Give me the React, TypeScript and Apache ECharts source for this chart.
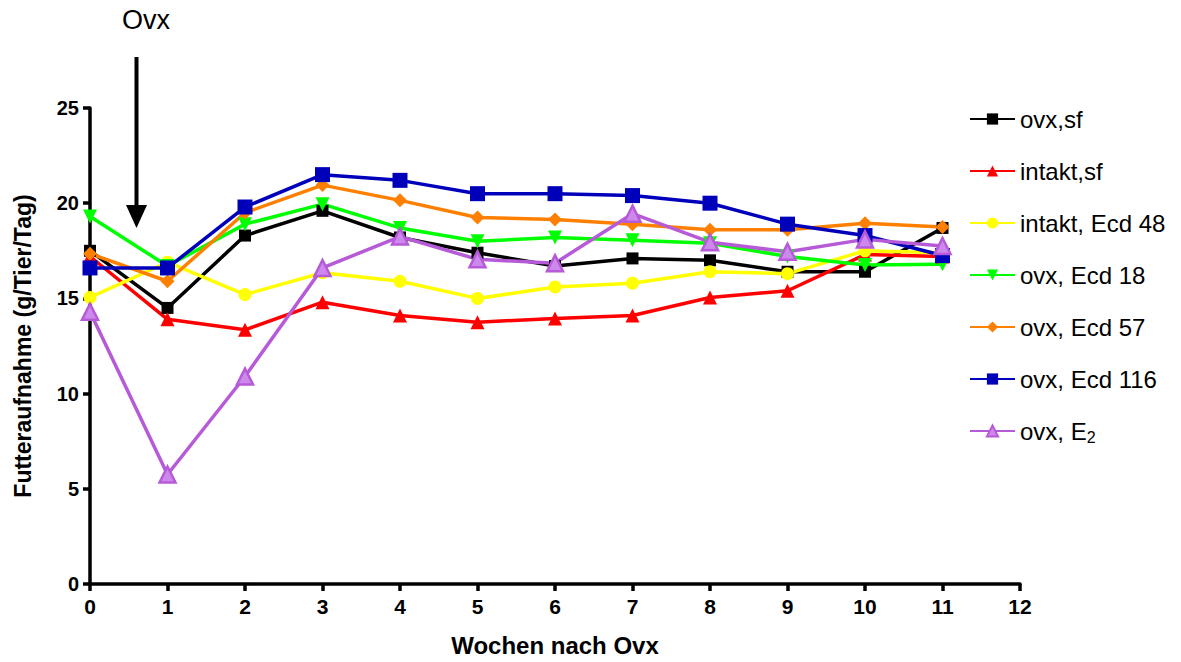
import React, { useEffect, useRef } from "react";
import * as echarts from "echarts";

const weeks = [0, 1, 2, 3, 4, 5, 6, 7, 8, 9, 10, 11];
const ovxSf = [17.5, 14.5, 18.3, 19.6, 18.2, 17.4, 16.7, 17.1, 17.0, 16.4, 16.4, 18.7];
const intaktSf = [17.2, 13.9, 13.35, 14.8, 14.1, 13.75, 13.95, 14.1, 15.05, 15.4, 17.3, 17.2];
const intaktEcd48 = [15.05, 16.9, 15.2, 16.35, 15.9, 15.0, 15.6, 15.8, 16.4, 16.3, 17.5, 17.4];
const ovxEcd18 = [19.3, 16.7, 18.9, 19.95, 18.7, 18.0, 18.2, 18.05, 17.9, 17.2, 16.75, 16.8];
const ovxEcd57 = [17.35, 15.9, 19.5, 20.95, 20.15, 19.25, 19.15, 18.9, 18.6, 18.6, 18.95, 18.75];
const ovxEcd116 = [16.6, 16.6, 19.8, 21.5, 21.2, 20.5, 20.5, 20.4, 20.0, 18.9, 18.3, 17.25];
const ovxE2 = [14.3, 5.75, 10.9, 16.6, 18.25, 17.05, 16.85, 19.45, 17.95, 17.45, 18.1, 17.75];

const seriesNames = [
  "ovx,sf",
  "intakt,sf",
  "intakt, Ecd 48",
  "ovx, Ecd 18",
  "ovx, Ecd 57",
  "ovx, Ecd 116",
  "ovx, E2",
];

const FONT = "Liberation Sans, Arial, sans-serif";

export default function App() {
  const ref = useRef<HTMLDivElement>(null);

  useEffect(() => {
    if (!ref.current) return;
    const chart = echarts.init(ref.current, undefined, { renderer: "svg" });

    const pairs = (vals: number[]) => weeks.map((w, i) => [w, vals[i]]);

    const mk = (
      name: string,
      vals: number[],
      color: string,
      symbol: string,
      size: number,
      extra: any = {}
    ) => ({
      name,
      type: "line",
      data: pairs(vals),
      symbol,
      symbolSize: size,
      lineStyle: { color, width: 3.5 },
      itemStyle: { color, borderColor: color, borderWidth: 0 },
      emphasis: { disabled: true },
      ...extra,
    });

    chart.setOption({
      animation: false,
      grid: { left: 90, right: 161, top: 108, bottom: 72 },
      legend: {
        orient: "vertical",
        left: 964,
        top: 102,
        itemWidth: 45,
        itemHeight: 14,
        itemGap: 28,
        data: seriesNames,
        textStyle: {
          fontFamily: FONT,
          fontSize: 24,
          lineHeight: 24,
          color: "#000",
          rich: {
            sub: { fontFamily: FONT, fontSize: 16, padding: [12, 0, 0, 0], color: "#000" },
          },
        },
        formatter: (n: string) => (n === "ovx, E2" ? "ovx, E{sub|2}" : n),
      },
      xAxis: {
        type: "value",
        min: 0,
        max: 12,
        interval: 1,
        name: "Wochen nach Ovx",
        nameLocation: "middle",
        nameGap: 49,
        nameTextStyle: { fontFamily: FONT, fontSize: 24, fontWeight: "bold", color: "#000" },
        axisLine: { lineStyle: { color: "#000", width: 3.5 } },
        axisTick: { show: true, length: 7, lineStyle: { color: "#000", width: 3.5 } },
        axisLabel: { fontFamily: FONT, fontSize: 21, fontWeight: "bold", color: "#000", margin: 12 },
        splitLine: { show: false },
      },
      yAxis: {
        type: "value",
        min: 0,
        max: 25,
        interval: 5,
        name: "Futteraufnahme (g/Tier/Tag)",
        nameLocation: "middle",
        nameGap: 56,
        nameTextStyle: { fontFamily: FONT, fontSize: 23, fontWeight: "bold", color: "#000" },
        axisLine: { show: true, lineStyle: { color: "#000", width: 3.5 } },
        axisTick: { show: true, length: 7, lineStyle: { color: "#000", width: 3.5 } },
        axisLabel: { fontFamily: FONT, fontSize: 20, fontWeight: "bold", color: "#000", margin: 11 },
        splitLine: { show: false },
      },
      graphic: [
        {
          type: "text",
          left: 122,
          top: 6,
          style: { text: "Ovx", fontFamily: FONT, fontSize: 27, fill: "#000" },
        },
        {
          type: "line",
          shape: { x1: 136.5, y1: 57, x2: 136.5, y2: 210 },
          style: { stroke: "#000", lineWidth: 4 },
        },
        {
          type: "polygon",
          shape: { points: [[126, 205], [147, 205], [136.5, 228]] },
          style: { fill: "#000" },
        },
      ],
      series: [
        mk(seriesNames[0], ovxSf, "#000000", "rect", 12),
        mk(seriesNames[1], intaktSf, "#ff0000", "triangle", 14),
        mk(seriesNames[2], intaktEcd48, "#ffff00", "circle", 13),
        mk(seriesNames[3], ovxEcd18, "#00ff00", "triangle", 14, { symbolRotate: 180 }),
        mk(seriesNames[4], ovxEcd57, "#ff8000", "diamond", 14),
        mk(seriesNames[5], ovxEcd116, "#0000bb", "rect", 15),
        {
          ...mk(seriesNames[6], ovxE2, "#b65ad8", "triangle", 16),
          itemStyle: { color: "#cc88ec", borderColor: "#b65ad8", borderWidth: 2.5 },
        },
      ],
    });

    return () => chart.dispose();
  }, []);

  return (
    <div
      ref={ref}
      style={{ position: "fixed", left: 0, top: 0, width: 1181, height: 662, background: "#fff" }}
    />
  );
}
